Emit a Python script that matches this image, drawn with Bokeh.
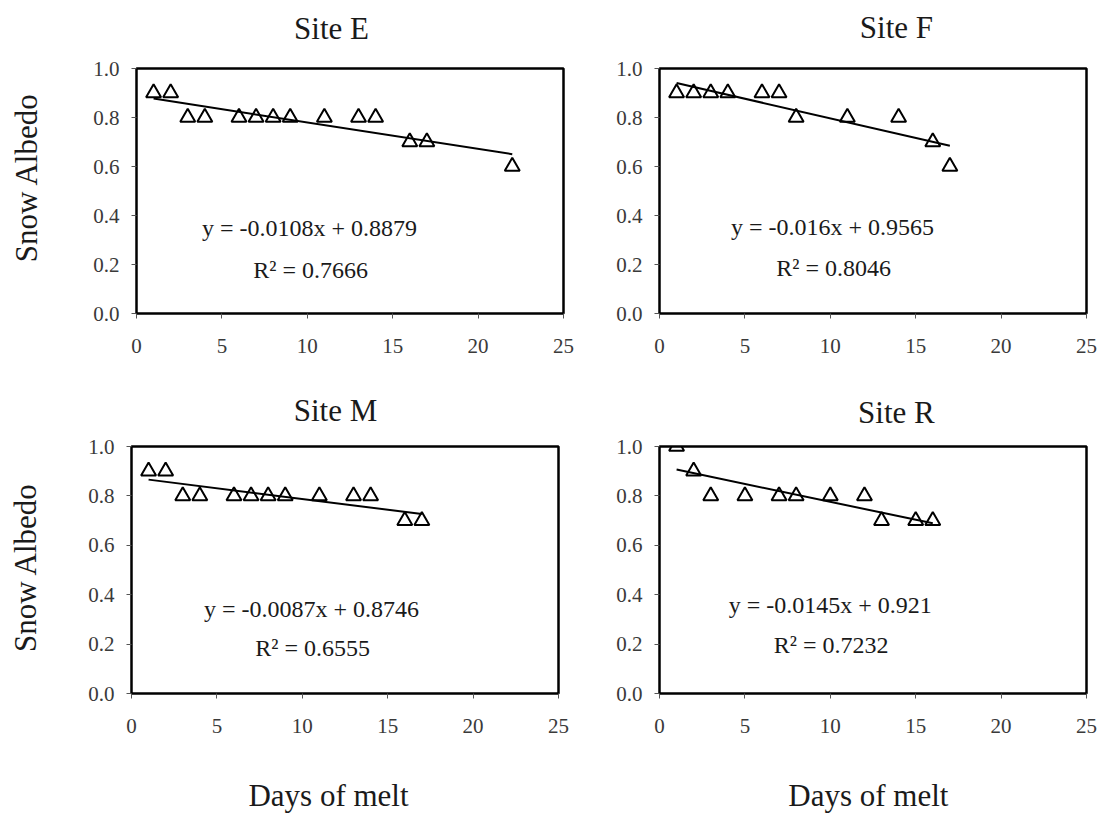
import math

from bokeh.plotting import figure
from bokeh.models import Range1d, FixedTicker, PrintfTickFormatter
from bokeh.layouts import column, row
from bokeh.core.properties import value
from bokeh.embed import file_html
from bokeh.resources import INLINE

SERIF = "Liberation Serif"

# ---- data -------------------------------------------------------------
site_names = ["Site E", "Site F", "Site M", "Site R"]

e_days = [1, 2, 3, 4, 6, 7, 8, 9, 11, 13, 14, 16, 17, 22]
e_albedo = [0.9, 0.9, 0.8, 0.8, 0.8, 0.8, 0.8, 0.8, 0.8, 0.8, 0.8, 0.7, 0.7, 0.6]

f_days = [1, 2, 3, 4, 6, 7, 8, 11, 14, 16, 17]
f_albedo = [0.9, 0.9, 0.9, 0.9, 0.9, 0.9, 0.8, 0.8, 0.8, 0.7, 0.6]

m_days = [1, 2, 3, 4, 6, 7, 8, 9, 11, 13, 14, 16, 17]
m_albedo = [0.9, 0.9, 0.8, 0.8, 0.8, 0.8, 0.8, 0.8, 0.8, 0.8, 0.8, 0.7, 0.7]

r_days = [1, 2, 3, 5, 7, 8, 10, 12, 13, 15, 16]
r_albedo = [1.0, 0.9, 0.8, 0.8, 0.8, 0.8, 0.8, 0.8, 0.7, 0.7, 0.7]

# linear trend fits (slope, intercept, R^2)
slopes = [-0.0108, -0.016, -0.0087, -0.0145]
intercepts = [0.8879, 0.9565, 0.8746, 0.921]
r_squared = [0.7666, 0.8046, 0.6555, 0.7232]

x_ticks = [0, 5, 10, 15, 20, 25]
y_ticks = [0.0, 0.2, 0.4, 0.6, 0.8, 1.0]

y_label = "Snow Albedo"
x_label = "Days of melt"

# ---- panel geometry ---------------------------------------------------------
panels = [
    dict(days=e_days, albedo=e_albedo, w=550, h=333, bl=86, br=37, bt=16, bb=72,
         eq=(10.13, 0.35), r2=(10.2, 0.178)),
    dict(days=f_days, albedo=f_albedo, w=501, h=333, bl=59, br=15, bt=16, bb=72,
         eq=(10.13, 0.355), r2=(10.2, 0.186)),
    dict(days=m_days, albedo=m_albedo, w=550, h=313, bl=81, br=42, bt=16, bb=50,
         eq=(10.54, 0.344), r2=(10.6, 0.186)),
    dict(days=r_days, albedo=r_albedo, w=501, h=313, bl=59, br=15, bt=16, bb=50,
         eq=(10.0, 0.36), r2=(10.05, 0.196)),
]

CAPTION_STYLE = dict(text_font=value(SERIF), text_font_size="31px", text_color="#1a1a1a",
                     text_align="center", text_baseline="middle")


def caption(w, h, items):
    """A bare strip holding caption text; items are (x, y-from-top, text, angle)."""
    c = figure(width=w, height=h, output_backend="svg", toolbar_location=None,
               x_range=Range1d(0, w), y_range=Range1d(0, h),
               x_axis_type=None, y_axis_type=None, min_border=0,
               outline_line_color=None, background_fill_color="white",
               border_fill_color="white")
    for x, y, txt, ang in items:
        c.text(x=[x], y=[h - y], text=[txt], angle=ang, **CAPTION_STYLE)
    return c


def make_panel(i, cfg):
    p = figure(width=cfg["w"], height=cfg["h"], output_backend="svg",
               toolbar_location=None, x_range=Range1d(0, 25), y_range=Range1d(0, 1.0),
               min_border_left=cfg["bl"], min_border_right=cfg["br"],
               min_border_top=cfg["bt"], min_border_bottom=cfg["bb"],
               background_fill_color="white", border_fill_color="white")
    p.outline_line_color = "black"
    p.outline_line_width = 2.5
    p.xgrid.visible = False
    p.ygrid.visible = False

    for ax in (p.xaxis[0], p.yaxis[0]):
        ax.axis_line_color = "black"
        ax.axis_line_width = 1
        ax.major_tick_line_color = "#555555"
        ax.major_tick_in = 0
        ax.major_tick_out = 5
        ax.minor_tick_line_color = None
        ax.major_label_text_font = SERIF
        ax.major_label_text_font_size = "21px"
        ax.major_label_text_color = "#3a3a3a"
    p.xaxis[0].ticker = FixedTicker(ticks=x_ticks)
    p.xaxis[0].formatter = PrintfTickFormatter(format="%d")
    p.xaxis[0].major_label_standoff = 20
    p.yaxis[0].ticker = FixedTicker(ticks=y_ticks)
    p.yaxis[0].formatter = PrintfTickFormatter(format="%.1f")
    p.yaxis[0].major_label_standoff = 12

    # trend line over the observed range
    x0, x1 = min(cfg["days"]), max(cfg["days"])
    p.line([x0, x1], [slopes[i] * x0 + intercepts[i], slopes[i] * x1 + intercepts[i]],
           line_color="black", line_width=2)

    # observations
    p.scatter(cfg["days"], cfg["albedo"], marker="triangle", size=15,
              fill_color=None, line_color="black", line_width=2)

    # fit annotation
    eq_text = f"y = {slopes[i]:g}x + {intercepts[i]:g}"
    r2_text = f"R\u00b2 = {r_squared[i]:.4f}"
    p.text(x=[cfg["eq"][0], cfg["r2"][0]], y=[cfg["eq"][1], cfg["r2"][1]],
           text=[eq_text, r2_text], text_font=value(SERIF), text_font_size="24px",
           text_align="center", text_baseline="middle", text_color="#1a1a1a")
    return p


pE, pF, pM, pR = [make_panel(i, cfg) for i, cfg in enumerate(panels)]
up = math.pi / 2

top_row = row(
    column(caption(600, 52, [(331, 28, site_names[0], 0)]),
           row(caption(50, 333, [(26, 148, y_label, up)]), pE, spacing=0), spacing=0),
    column(caption(501, 52, [(278, 27, site_names[1], 0)]), pF, spacing=0),
    spacing=0)

bottom_row = row(
    column(caption(600, 45, [(335, 25, site_names[2], 0)]),
           row(caption(50, 313, [(25, 153, y_label, up)]), pM, spacing=0),
           caption(600, 78, [(328, 52, x_label, 0)]), spacing=0),
    column(caption(501, 45, [(278, 27, site_names[3], 0)]), pR,
           caption(501, 78, [(245, 52, x_label, 0)]), spacing=0),
    spacing=0)

layout = column(top_row, bottom_row, spacing=0)

open("out.html", "w").write(file_html(layout, INLINE))
